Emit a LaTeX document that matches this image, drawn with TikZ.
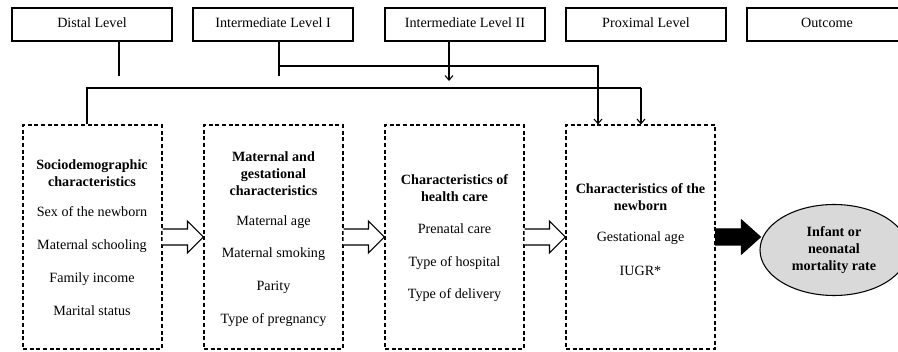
\documentclass[tikz,border=0pt]{standalone}
\usepackage{fontspec}
\setmainfont{Liberation Serif}
\usetikzlibrary{arrows.meta,calc,shapes.geometric}
\definecolor{ellgray}{RGB}{217,217,217}
\begin{document}
\begin{tikzpicture}[x=0.75pt,y=-0.75pt, line width=0.8pt,
  font=\fontsize{10.6}{12.75}\selectfont,
  level/.style={draw, minimum width=120pt, minimum height=24.75pt, inner sep=0pt, text height=0.7em, text depth=0.2em},
  group/.style={draw, dash pattern=on 3pt off 2pt, minimum width=104.25pt, minimum height=168pt, inner sep=0pt},
  item/.style={inner sep=0pt, text height=0.7em, text depth=0.2em},
  head/.style={inner sep=0pt, align=center, font=\fontsize{10.6}{12.75}\selectfont\bfseries},
  link/.style={-{Straight Barb[length=3.5pt,width=6pt]}},
  hollow/.style={draw, fill=white, line width=0.8pt, line join=miter},
  solidarrow/.style={draw, fill=black, line width=0.8pt, line join=miter},
]
\useasboundingbox (0,0) rectangle (898,352);
\clip (0,0) rectangle (898,352);

% level boxes
\node[level] (distal) at (92,24.5) {Distal Level};
\node[level] (il1) at (273,24.5) {Intermediate Level I};
\node[level] (il2) at (465,24.5) {Intermediate Level II};
\node[level] (prox) at (646,24.5) {Proximal Level};
\node[level] (outc) at (827,24.5) {Outcome};

% groups
\node[group] (b1) at (92.5,237) {};
\node[group] (b2) at (273.5,237) {};
\node[group] (b3) at (454.5,237) {};
\node[group, minimum width=111.75pt] (b4) at (640.5,237) {};

% box 1 text
\node[head] (h1t) at (92,173.5) {Sociodemographic\\characteristics};
\node[item] (t11) at (92,213) {Sex of the newborn};
\node[item] (t12) at (92,246) {Maternal schooling};
\node[item] (t13) at (92,279) {Family income};
\node[item] (t14) at (92,312) {Marital status};

% box 2 text
\node[head] (h2t) at (273.5,173.5) {Maternal and\\gestational\\characteristics};
\node[item] (t21) at (273.5,222) {Maternal age};
\node[item] (t22) at (273.5,254) {Maternal smoking};
\node[item] (t23) at (273.5,287) {Parity};
\node[item] (t24) at (273.5,320) {Type of pregnancy};

% box 3 text
\node[head] (h3t) at (454.5,188.5) {Characteristics of\\health care};
\node[item] (t31) at (454.5,230) {Prenatal care};
\node[item] (t32) at (454.5,263) {Type of hospital};
\node[item] (t33) at (454.5,295) {Type of delivery};

% box 4 text
\node[head] (h4t) at (640.5,197.5) {Characteristics of the\\newborn};
\node[item] (t41) at (640.5,238) {Gestational age};
\node[item] (t42) at (640.5,272) {IUGR*};

% outcome ellipse
\node[ellipse, draw, fill=ellgray, minimum width=111pt, minimum height=68.25pt, inner sep=0pt,
      align=center, font=\fontsize{10.6}{12.75}\selectfont\bfseries] (ell) at (834,250)
      {Infant or\\neonatal\\mortality rate};

% hollow block arrows
\foreach \a/\b in {b1/b2, b2/b3, b3/b4}{
  \path[hollow] ($(\a.east)+(0,-8)$) -- ($(\b.west)+(-16,-8)$) -- ($(\b.west)+(-16,-16)$)
     -- (\b.west) -- ($(\b.west)+(-16,16)$) -- ($(\b.west)+(-16,8)$) -- ($(\a.east)+(0,8)$);
}
% solid arrow to outcome
\coordinate (tip) at ($(ell.west |- b4.east)+(1,0)$);
\path[solidarrow] ($(b4.east)+(0,-8)$) -- ($(tip)+(-19,-8)$) -- ($(tip)+(-19,-17)$)
   -- (tip) -- ($(tip)+(-19,17)$) -- ($(tip)+(-19,8)$) -- ($(b4.east)+(0,8)$) -- cycle;

% connectors
\coordinate (d1) at (119,76);
\draw (distal.south -| d1) -- (d1);

\coordinate (i1) at (279,76);
\coordinate (j1) at (279,66);
\coordinate (k1) at (598,66);
\draw (il1.south -| i1) -- (i1);
\draw[link] (j1) -- (k1) -- (k1 |- b4.north);

\coordinate (i2) at (449,81);
\draw[link] (il2.south -| i2) -- (i2);

\coordinate (hl) at (87,88);
\coordinate (hr) at (641,88);
\draw (hl |- b1.north) -- (hl) -- (hr);
\draw[link] (hr) -- (hr |- b4.north);
\end{tikzpicture}
\end{document}
